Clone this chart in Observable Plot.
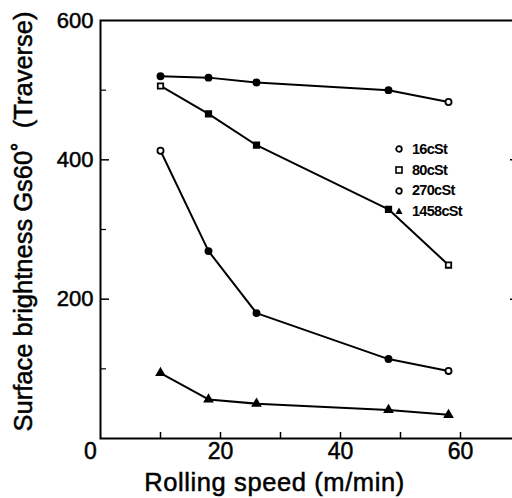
<!DOCTYPE html>
<html>
<head>
<meta charset="utf-8">
<script src="https://cdn.jsdelivr.net/npm/d3@7"></script>
<script src="https://cdn.jsdelivr.net/npm/@observablehq/plot@0.6"></script>
<style>
  html, body { margin: 0; padding: 0; background: #fff; }
  #wrap { position: relative; width: 512px; height: 498px; overflow: hidden; font-family: "Liberation Sans", Arial, sans-serif; }
  #wrap svg text { stroke: #000; stroke-width: 0.5px; }
  #legend { position: absolute; left: 394px; top: 139px; font-size: 14.5px; font-weight: bold; letter-spacing: -0.7px; line-height: 20.7px; }
  #legend div { display: flex; align-items: center; height: 20.7px; }
  #legend svg { width: 10px; height: 10px; margin-right: 8px; }
</style>
</head>
<body>
<div id="wrap"><div id="legend"></div></div>
<script>
// ---- data ----
const speeds = [10, 18, 26, 48, 58];
const s16 = [520, 518, 511, 500, 483];
const s80 = [506, 466, 421, 329, 249];
const s270 = [413, 269, 180, 114, 97];
const s1458 = [94, 56, 50, 41, 34];
const seriesNames = ["16cSt", "80cSt", "270cSt", "1458cSt"];
const xTickLabels = [20, 40, 60];
const xTickMarks = [10, 20, 30, 40, 50, 60];
const yTickLabels = [200, 400, 600];
const yMajor = [200, 400];
const yMinor = [100, 300, 500];
const xLabel = "Rolling speed (m/min)";
const yLabel = "Surface brightness Gs60\u02da  (Traverse)";

const symbolsFor = {"16cSt": "circle", "80cSt": "square", "270cSt": "circle", "1458cSt": "triangle"};
const allSeries = [s16, s80, s270, s1458];
const rows = [];
allSeries.forEach((vals, si) => vals.forEach((v, i) => rows.push({series: seriesNames[si], speed: speeds[i], value: v, idx: i})));

const font = "Liberation Sans, Arial, sans-serif";
const chart = Plot.plot({
  width: 512,
  height: 498,
  marginLeft: 100,
  marginRight: -8,
  marginTop: 20,
  marginBottom: 60,
  style: {fontFamily: font, background: "white", overflow: "hidden"},
  x: {domain: [0, 70]},
  y: {domain: [0, 600]},
  marks: [
    Plot.frame({stroke: "black", strokeWidth: 2}),
    // inward ticks
    Plot.axisX({ticks: xTickMarks, tickSize: -6, tickFormat: () => "", strokeWidth: 1.5, label: null}),
    Plot.axisY({ticks: yMajor, tickSize: -9, tickFormat: () => "", strokeWidth: 1.5, label: null}),
    Plot.axisY({ticks: yMinor, tickSize: -6, tickFormat: () => "", strokeWidth: 1.2, label: null}),
    Plot.axisY({anchor: "right", ticks: yMajor, tickSize: -11, tickFormat: () => "", strokeWidth: 1.5, label: null}),
    // tick labels
    Plot.axisX({ticks: xTickLabels, tickSize: 0, tickPadding: 4, fontSize: 23, label: null}),
    Plot.axisX({ticks: [0], tickSize: 0, tickPadding: 4, fontSize: 23, dx: -10, label: null}),
    Plot.axisY({ticks: yTickLabels, tickSize: 0, tickPadding: 7, fontSize: 22, label: null}),
    // axis titles
    Plot.text([xLabel], {text: d => d, frameAnchor: "bottom", dx: -36, dy: 44, fontSize: 25.5, lineAnchor: "middle", textAnchor: "middle"}),
    Plot.text([yLabel], {text: d => d, frameAnchor: "left", dx: -77, dy: -8, rotate: -90, fontSize: 25.5, lineAnchor: "middle", textAnchor: "middle"}),
    // data
    Plot.line(rows, {x: "speed", y: "value", z: "series", stroke: "black", strokeWidth: 2}),
    Plot.dot(rows, {x: "speed", y: "value", symbol: d => symbolsFor[d.series], r: d => d.series === "1458cSt" ? 2.8 : 3.3, stroke: "black", strokeWidth: 1.8,
      fill: d => (d.series === "1458cSt" || (d.idx > 0 && d.idx < 4) || (d.series === "16cSt" && d.idx === 0)) ? "black" : "white"}),
  ]
});
document.getElementById("wrap").prepend(chart);
chart.querySelectorAll("text").forEach(t => { if (t.textContent === xLabel) t.setAttribute("letter-spacing", "0.6"); });

// legend
const legend = document.getElementById("legend");
const legendIcons = {
  circle: '<circle cx="5" cy="5" r="2.8" fill="white" stroke="black" stroke-width="1.8"/>',
  square: '<rect x="2" y="2" width="6" height="6" fill="white" stroke="black" stroke-width="1.6"/>',
  triangle: '<path d="M5 1.5 L8.5 8 L1.5 8 Z" fill="black"/>'
};
seriesNames.forEach(n => {
  const row = document.createElement("div");
  row.innerHTML = `<svg viewBox="0 0 10 10">${legendIcons[symbolsFor[n]]}</svg><span>${n}</span>`;
  legend.appendChild(row);
});
</script>
</body>
</html>
